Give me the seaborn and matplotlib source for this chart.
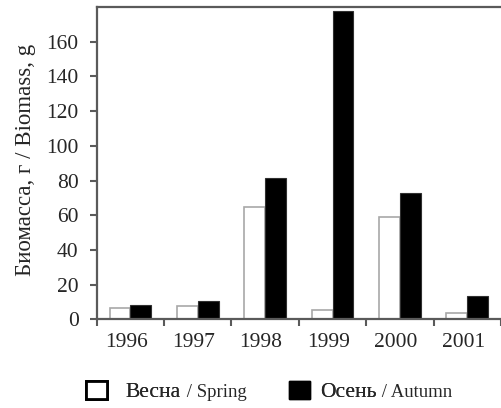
import numpy as np
import pandas as pd
import matplotlib
matplotlib.use("Agg")
import matplotlib.pyplot as plt
import matplotlib.transforms as mtransforms
from matplotlib.patches import Patch
import seaborn as sns

# Data
years = ["1996", "1997", "1998", "1999", "2000", "2001"]
spring = [6.7, 7.7, 65.0, 5.4, 59.2, 3.8]
autumn = [8.1, 10.4, 81.7, 177.5, 73.0, 13.3]
seasons = ["Весна", "Осень"]
seasons_en = ["Spring", "Autumn"]
y_ticks = [0, 20, 40, 60, 80, 100, 120, 140, 160]

df = pd.DataFrame({
    "year": years * 2,
    "season": [seasons[0]] * len(years) + [seasons[1]] * len(years),
    "biomass": spring + autumn,
})

sns.set_style("ticks")
plt.rcParams["font.family"] = ["Liberation Serif", "DejaVu Serif"]

spine_col = "#5a5a5a"

fig = plt.figure(figsize=(5.01, 4.08), dpi=100)
ax = fig.add_axes([96.7 / 501, 1 - 319.3 / 408, 1 - 96.7 / 501, (319.3 - 7) / 408])

sns.barplot(
    data=df, x="year", y="biomass", hue="season", order=years,
    hue_order=seasons, palette={"Весна": "white", "Осень": "black"},
    width=0.62, gap=0, ax=ax, legend=False, errorbar=None,
)

# bar edges
for bar in ax.containers[0]:
    bar.set_edgecolor("#a8a8a8")
    bar.set_linewidth(1.2)
for bar in ax.containers[1]:
    bar.set_edgecolor("#303030")
    bar.set_linewidth(0.8)

ax.set_xlim(-0.5, 5.40)
ax.set_ylim(0, 180)
ax.set_yticks(y_ticks)
ax.set_xlabel("")
ax.set_ylabel("Биомасса, г / Biomass, g", fontsize=16.5)
ax.yaxis.set_label_coords(-0.149, 0.51)

# x ticks: labels at group centres, marks between groups
ax.set_xticks(range(len(years)))
ax.set_xticklabels(years)
ax.set_xticks(np.arange(-0.5, len(years), 1.0), minor=True)
ax.tick_params(axis="x", which="major", length=0, pad=10, labelsize=15.5)
ax.tick_params(axis="x", which="minor", length=5, width=1.5, color=spine_col,
               direction="out")
ax.tick_params(axis="y", length=5, width=1.5, color=spine_col, pad=8,
               labelsize=15.5)
shift = mtransforms.ScaledTranslation(-3 / 72, 0, fig.dpi_scale_trans)
for lab in ax.get_xticklabels():
    lab.set_transform(lab.get_transform() + shift)

for side in ["left", "bottom", "top"]:
    ax.spines[side].set_color(spine_col)
    ax.spines[side].set_linewidth(1.6)
ax.spines["right"].set_visible(False)

# legend: one entry per season, English name appended in smaller type
handles = [
    Patch(facecolor="white", edgecolor="black", linewidth=2.0),
    Patch(facecolor="black", edgecolor="black", linewidth=1.0),
]
legend_x = [86, 289]
text_pad = [0.85, 0.45]
legs = []
for handle, ru, en, x0, tp in zip(handles, seasons, seasons_en, legend_x, text_pad):
    leg = fig.legend(
        handles=[handle], labels=[ru], loc="upper left",
        bbox_to_anchor=(x0 / 501, 1 - 380.5 / 408), frameon=False,
        fontsize=15.5, handlelength=0.98, handleheight=0.98, handletextpad=tp,
        borderpad=0, borderaxespad=0,
    )
    fig.add_artist(leg)
    legs.append((leg, en))

fig.canvas.draw()
renderer = fig.canvas.get_renderer()
for leg, en in legs:
    t = leg.get_texts()[0]
    bb = t.get_window_extent(renderer)
    # baseline of the legend label in display pixels
    base_y = t.get_transform().transform(t.get_position())[1]
    fig.text((bb.x1 + 1) / 501, base_y / 408, " / " + en,
             fontsize=13.5, ha="left", va="baseline")

fig.savefig("out.png", dpi=100)
